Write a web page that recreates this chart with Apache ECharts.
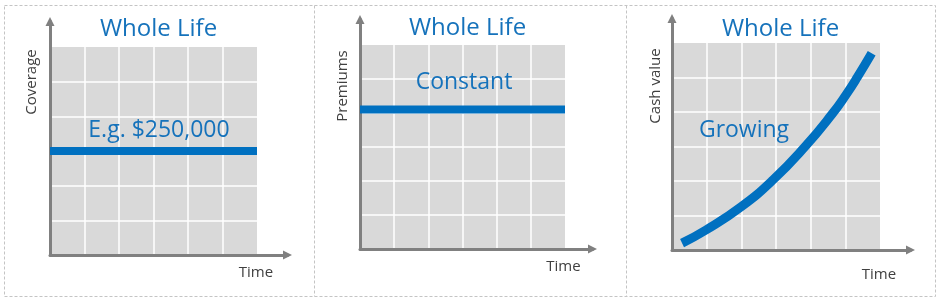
<!DOCTYPE html>
<html>
<head>
<meta charset="utf-8">
<script src="https://cdn.jsdelivr.net/npm/echarts@6/dist/echarts.min.js"></script>
<style>
html,body{margin:0;padding:0;background:#fff;}
#chart{width:943px;height:303px;}
</style>
</head>
<body>
<div id="chart"></div>
<script>
// ---- data ----
const panelTitles = ['Whole Life', 'Whole Life', 'Whole Life'];
const yAxisNames = ['Coverage', 'Premiums', 'Cash value'];
const xAxisName = 'Time';
const annotations = ['E.g. $250,000', 'Constant', 'Growing'];
const gridTicks = [0, 1, 2, 3, 4, 5, 6];
const coverageX = [0, 6];
const coverageY = [3, 3];
const premiumX = [0, 6];
const premiumY = [4.1, 4.1];
const cashValueX = [0.29, 0.98, 1.99, 2.91, 3.84, 4.61, 5.02, 5.36, 5.76];
const cashValueY = [0.20, 0.58, 1.25, 2.03, 3.00, 3.93, 4.50, 5.03, 5.70];

// ---- layout ----
const BLUE = '#0070c0';
const TEXT_BLUE = '#1572bb';
const AXIS_GRAY = '#808080';
const FONT = '"Open Sans", "Noto Sans", sans-serif';
const panels = [
  {gray: [50, 47, 257, 255], tipY: 17, tipX: 292, title: [158.5, 29], ann: [159, 130], yName: [32, 82], time: [256, 272.5]},
  {gray: [360, 45, 565, 249], tipY: 15, tipX: 597, title: [467.5, 28], ann: [464, 82], yName: [343, 86], time: [563.5, 266.5]},
  {gray: [672, 43, 880, 250], tipY: 14, tipX: 915, title: [780.5, 29], ann: [744, 130], yName: [656, 86], time: [879, 274.5]}
];
const seriesData = [
  coverageX.map((x, i) => [x, coverageY[i]]),
  premiumX.map((x, i) => [x, premiumY[i]]),
  cashValueX.map((x, i) => [x, cashValueY[i]])
];
const ARROW = 9;

const grid = [], xAxis = [], yAxis = [], series = [], graphic = [];
panels.forEach((p, i) => {
  const [l, t, r, b] = p.gray;
  // gray plotting area
  grid.push({left: l, top: t, width: r - l, height: b - t, show: true, backgroundColor: '#d9d9d9', borderWidth: 0, z: 0});
  // axis frame with arrows
  grid.push({left: l, top: p.tipY + ARROW / 2, width: p.tipX - ARROW / 2 - l, height: b - p.tipY - ARROW / 2, show: false});
  const gA = i * 2, gB = i * 2 + 1;
  xAxis.push({gridIndex: gA, type: 'value', min: gridTicks[0], max: gridTicks[gridTicks.length - 1], interval: 1,
    axisLine: {show: false}, axisTick: {show: false}, axisLabel: {show: false},
    splitLine: {show: true, showMinLine: false, showMaxLine: false, lineStyle: {color: '#ffffff', width: 1.5}}});
  yAxis.push({gridIndex: gA, type: 'value', min: gridTicks[0], max: gridTicks[gridTicks.length - 1], interval: 1,
    axisLine: {show: false}, axisTick: {show: false}, axisLabel: {show: false},
    splitLine: {show: true, showMinLine: false, showMaxLine: false, lineStyle: {color: '#ffffff', width: 1.5}}});
  xAxis.push({gridIndex: gB, type: 'value', min: 0, max: 1, z: 5,
    axisLine: {show: true, onZero: false, symbol: ['none', 'triangle'], symbolSize: [ARROW, ARROW], lineStyle: {color: AXIS_GRAY, width: 3}},
    axisTick: {show: false}, axisLabel: {show: false}, splitLine: {show: false}});
  yAxis.push({gridIndex: gB, type: 'value', min: 0, max: 1, z: 5,
    axisLine: {show: true, onZero: false, symbol: ['none', 'triangle'], symbolSize: [ARROW, ARROW], lineStyle: {color: AXIS_GRAY, width: 3}},
    axisTick: {show: false}, axisLabel: {show: false}, splitLine: {show: false}});
  series.push({type: 'line', xAxisIndex: gA, yAxisIndex: gA, data: seriesData[i], z: 10,
    smooth: i === 2 ? 0.5 : false, showSymbol: false, symbol: 'none', silent: true,
    lineStyle: {color: BLUE, width: i === 2 ? 9 : 8, cap: 'butt'}});
  // texts
  graphic.push({type: 'text', x: p.title[0], y: p.title[1], z: 20,
    style: {text: panelTitles[i], fill: TEXT_BLUE, font: '24px ' + FONT, align: 'center', verticalAlign: 'middle'}});
  graphic.push({type: 'text', x: p.ann[0], y: p.ann[1], z: 20,
    style: {text: annotations[i], fill: TEXT_BLUE, font: '23px ' + FONT, align: 'center', verticalAlign: 'middle'}});
  graphic.push({type: 'text', x: p.yName[0], y: p.yName[1], rotation: Math.PI / 2, z: 20,
    style: {text: yAxisNames[i], fill: '#404040', font: '15px ' + FONT, align: 'center', verticalAlign: 'middle'}});
  graphic.push({type: 'text', x: p.time[0], y: p.time[1], z: 20,
    style: {text: xAxisName, fill: '#404040', font: '15px ' + FONT, align: 'center', verticalAlign: 'middle'}});
});
// dashed frame
const dash = {stroke: '#c4c4c4', lineWidth: 1, lineDash: [3, 2], fill: null};
graphic.push({type: 'rect', z: 1, shape: {x: 4.5, y: 5.5, width: 931, height: 291}, style: dash});
graphic.push({type: 'line', z: 1, shape: {x1: 314.5, y1: 5.5, x2: 314.5, y2: 296.5}, style: dash});
graphic.push({type: 'line', z: 1, shape: {x1: 626.5, y1: 5.5, x2: 626.5, y2: 296.5}, style: dash});

const chart = echarts.init(document.getElementById('chart'), null, {renderer: 'canvas'});
chart.setOption({animation: false, grid, xAxis, yAxis, series, graphic});
</script>
</body>
</html>
